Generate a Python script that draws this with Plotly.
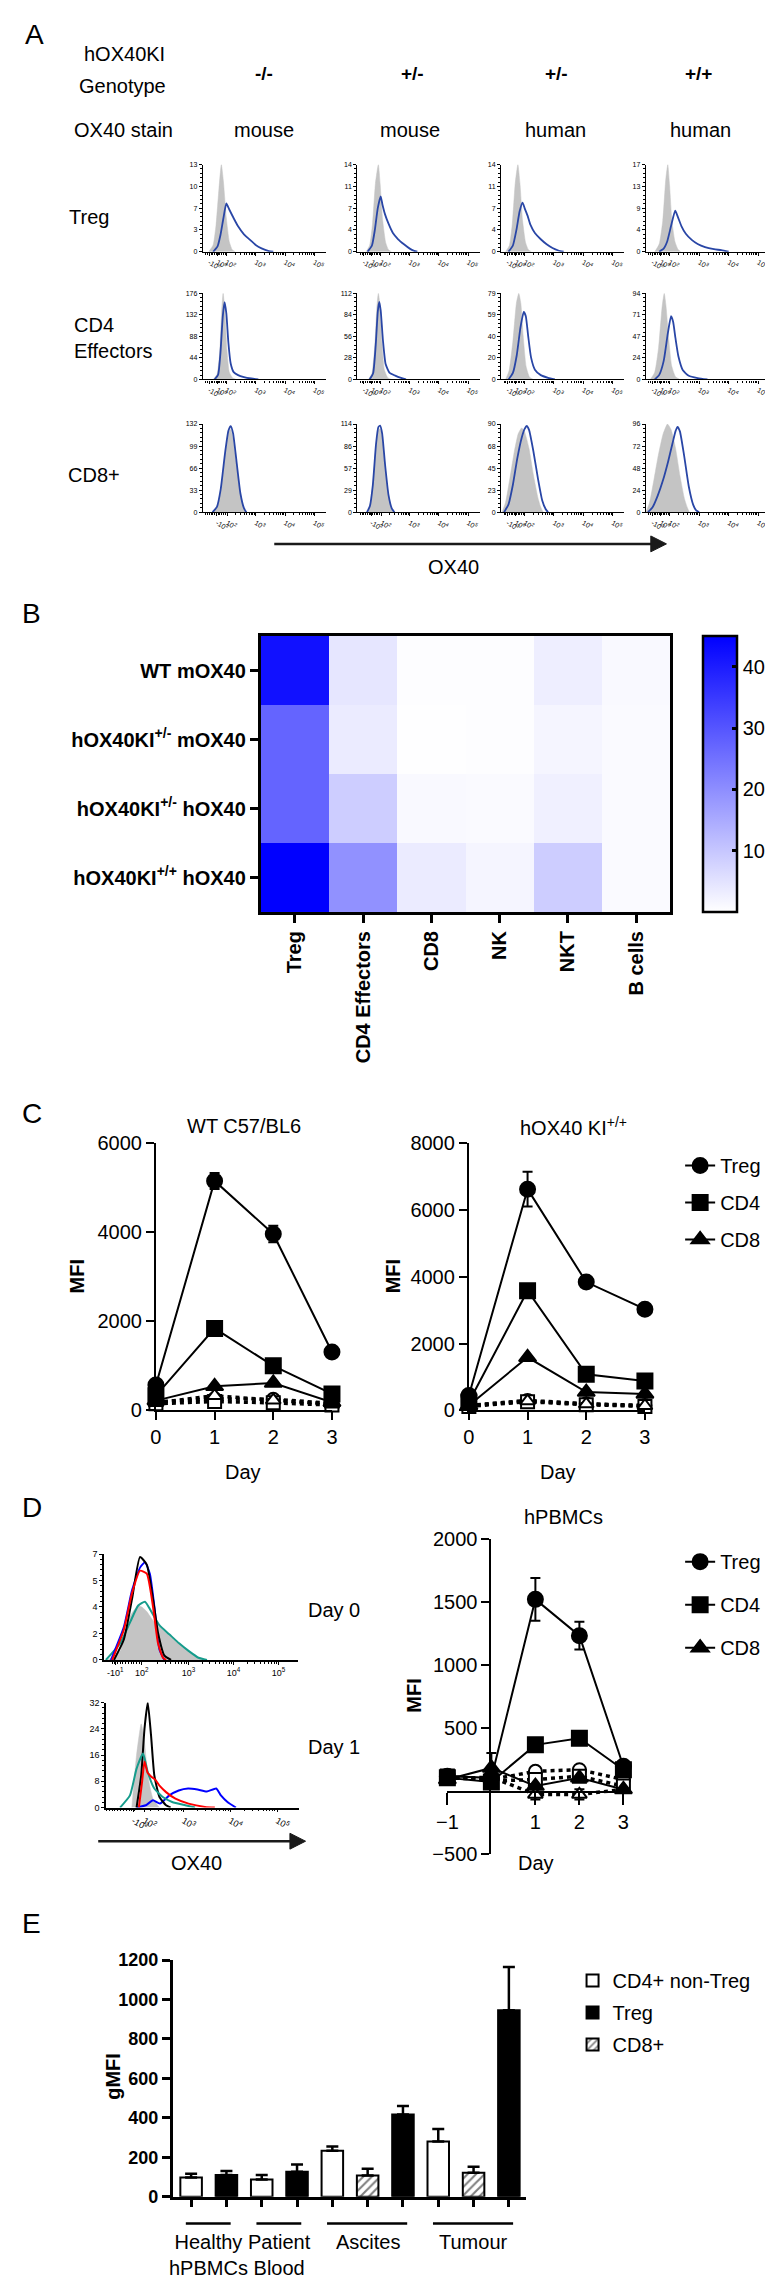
import math
import plotly.graph_objects as go

W, H = 773, 2276
FONT = "Arial, 'Liberation Sans', Helvetica, sans-serif"


def fx(p):
    return p / W


def fy(p):
    return 1 - p / H


# ======================= DATA =======================
# ---- Panel A : OX40 histograms (x in display decades, y in counts) ----
A_GENOTYPES = ["-/-", "+/-", "+/-", "+/+"]
A_STAINS = ["mouse", "mouse", "human", "human"]
A_ROW_LABELS = ["Treg", "CD4<br>Effectors", "CD8+"]
A_YMAX = [[13, 14, 14, 17], [176, 112, 79, 94], [132, 114, 90, 96]]

A_TREG_GRAY = [
    [(1.4, 0), (1.55, 1.0), (1.65, 4.0), (1.75, 9.5), (1.83, 13), (1.9, 10.5), (2.0, 5.0), (2.1, 1.5), (2.2, 0.3), (2.3, 0)],
    [(1.5, 0), (1.62, 1.0), (1.72, 4.5), (1.82, 11), (1.92, 14), (1.98, 11), (2.07, 5), (2.17, 1.5), (2.27, 0.3), (2.37, 0)],
    [(1.35, 0), (1.48, 1.0), (1.58, 4.5), (1.68, 11), (1.77, 14), (1.84, 11), (1.93, 5), (2.03, 1.5), (2.13, 0.3), (2.23, 0)],
    [(1.5, 0), (1.65, 1.5), (1.77, 6), (1.87, 14), (1.94, 17), (2.0, 13), (2.08, 6), (2.18, 2), (2.28, 0.5), (2.38, 0)],
]
A_TREG_BLUE = [
    [(1.55, 0), (1.7, 0.8), (1.8, 2.5), (1.9, 5.0), (2.0, 7.2), (2.1, 6.3), (2.25, 5.0), (2.4, 3.8), (2.6, 2.6), (2.8, 1.8), (3.0, 1.0), (3.2, 0.5), (3.45, 0.1), (3.6, 0)],
    [(1.55, 0), (1.7, 1.0), (1.8, 3.5), (1.9, 7.0), (2.0, 8.9), (2.06, 7.6), (2.15, 6.0), (2.27, 4.5), (2.42, 3.0), (2.6, 2.0), (2.8, 1.2), (3.0, 0.5), (3.15, 0.15), (3.26, 0)],
    [(1.45, 0), (1.6, 1.0), (1.72, 3.5), (1.83, 6.5), (1.93, 7.9), (2.0, 7.0), (2.1, 5.8), (2.2, 4.3), (2.35, 3.0), (2.55, 2.0), (2.75, 1.2), (2.95, 0.6), (3.15, 0.2), (3.33, 0)],
    [(1.65, 0), (1.8, 0.6), (1.92, 2.0), (2.05, 5.0), (2.19, 8.0), (2.28, 6.8), (2.4, 5.0), (2.55, 3.5), (2.75, 2.3), (2.95, 1.5), (3.2, 0.9), (3.5, 0.5), (3.75, 0.3), (4.0, 0)],
]
A_CD4_GRAY = [
    [(1.55, 0), (1.68, 10), (1.77, 50), (1.84, 140), (1.89, 176), (1.95, 140), (2.02, 60), (2.1, 15), (2.22, 3), (2.35, 0)],
    [(1.58, 0), (1.7, 8), (1.8, 45), (1.87, 95), (1.92, 112), (1.98, 95), (2.05, 45), (2.13, 12), (2.25, 2), (2.38, 0)],
    [(1.35, 0), (1.47, 8), (1.6, 35), (1.72, 70), (1.8, 79), (1.87, 70), (1.95, 40), (2.05, 12), (2.17, 2), (2.3, 0)],
    [(1.35, 0), (1.5, 8), (1.63, 35), (1.75, 80), (1.82, 94), (1.88, 80), (1.97, 45), (2.07, 15), (2.2, 3), (2.35, 0)],
]
A_CD4_BLUE = [
    [(1.6, 0), (1.72, 10), (1.8, 55), (1.88, 130), (1.94, 158), (2.0, 135), (2.07, 75), (2.15, 32), (2.25, 15), (2.4, 9), (2.6, 5), (2.85, 2), (3.09, 0)],
    [(1.62, 0), (1.74, 8), (1.83, 45), (1.9, 88), (1.95, 101), (2.0, 90), (2.08, 50), (2.17, 20), (2.3, 9), (2.5, 5), (2.7, 2), (2.87, 0)],
    [(1.45, 0), (1.6, 6), (1.73, 22), (1.86, 48), (1.97, 62), (2.04, 58), (2.12, 40), (2.22, 20), (2.35, 9), (2.55, 4), (2.8, 1.5), (3.03, 0)],
    [(1.5, 0), (1.65, 5), (1.8, 20), (1.94, 50), (2.05, 69), (2.12, 63), (2.2, 45), (2.3, 25), (2.45, 10), (2.65, 4), (2.95, 1.5), (3.28, 0)],
]
A_CD8_GRAY = [
    [(1.55, 0), (1.7, 8), (1.83, 35), (1.97, 90), (2.08, 120), (2.15, 124), (2.23, 110), (2.35, 70), (2.48, 25), (2.6, 5), (2.68, 0)],
    [(1.53, 0), (1.63, 8), (1.73, 35), (1.84, 85), (1.92, 106), (1.98, 108), (2.05, 98), (2.15, 60), (2.27, 20), (2.38, 4), (2.47, 0)],
    [(1.23, 0), (1.35, 10), (1.5, 35), (1.65, 62), (1.78, 80), (1.9, 86), (2.0, 82), (2.15, 65), (2.3, 38), (2.45, 15), (2.55, 5), (2.63, 0)],
    [(1.2, 0), (1.32, 10), (1.47, 35), (1.62, 62), (1.78, 85), (1.93, 96), (2.05, 90), (2.2, 70), (2.35, 40), (2.5, 15), (2.6, 5), (2.67, 0)],
]
A_CD8_BLUE = [
    [(1.53, 0), (1.68, 8), (1.81, 35), (1.96, 90), (2.07, 122), (2.15, 129), (2.23, 118), (2.35, 75), (2.48, 28), (2.6, 6), (2.68, 0)],
    [(1.53, 0), (1.63, 8), (1.73, 35), (1.84, 88), (1.92, 110), (1.98, 112), (2.05, 102), (2.15, 62), (2.27, 22), (2.38, 5), (2.47, 0)],
    [(1.3, 0), (1.45, 8), (1.6, 28), (1.75, 55), (1.9, 76), (2.0, 85), (2.07, 88), (2.15, 84), (2.3, 62), (2.45, 35), (2.6, 12), (2.72, 3), (2.8, 0)],
    [(1.27, 0), (1.42, 5), (1.6, 18), (1.78, 35), (1.95, 55), (2.1, 75), (2.2, 88), (2.27, 93), (2.35, 88), (2.5, 60), (2.65, 28), (2.8, 8), (2.9, 2), (3.0, 0)],
]
HIST_TICKS_1 = [1.42, 1.7, 2.0, 3, 4, 5]
HIST_TEXT_1 = ["-10<sup>2</sup>", "10<sup>0</sup>", "10<sup>2</sup>", "10<sup>3</sup>", "10<sup>4</sup>", "10<sup>5</sup>"]
HIST_TICKS_2 = [1.68, 2.03, 3, 4, 5]
HIST_TEXT_2 = ["-10<sup>2</sup>", "10<sup>2</sup>", "10<sup>3</sup>", "10<sup>4</sup>", "10<sup>5</sup>"]

# ---- Panel B : heatmap ----
B_ROWS = ["WT mOX40", "hOX40KI<sup>+/-</sup> mOX40", "hOX40KI<sup>+/-</sup> hOX40", "hOX40KI<sup>+/+</sup> hOX40"]
B_COLS = ["Treg", "CD4 Effectors", "CD8", "NK", "NKT", "B cells"]
B_VALUES = [
    [42.0, 4.4, 0.3, 0.3, 3.0, 1.0],
    [27.4, 3.5, 0.2, 0.3, 1.8, 0.9],
    [27.4, 8.8, 1.0, 0.8, 2.6, 0.9],
    [45.0, 19.4, 3.5, 1.8, 8.8, 0.9],
]
B_CBAR_TICKS = [10, 20, 30, 40]

# ---- Panel C : MFI vs day ----
C_DAYS = [0, 1, 2, 3]
C_WT_TREG = [570, 5150, 3960, 1310]
C_WT_TREG_ERR = [0, 180, 185, 0]
C_WT_CD4 = [330, 1840, 1000, 370]
C_WT_CD8 = [220, 540, 615, 185]
C_WT_ISO_TREG = [190, 260, 250, 160]
C_WT_ISO_CD4 = [150, 200, 170, 120]
C_WT_ISO_CD8 = [170, 330, 230, 140]
C_KI_TREG = [445, 6620, 3840, 3030]
C_KI_TREG_ERR = [0, 520, 0, 0]
C_KI_CD4 = [250, 3580, 1080, 880]
C_KI_CD8 = [150, 1590, 550, 495]
C_KI_ISO_TREG = [150, 300, 200, 150]
C_KI_ISO_CD4 = [120, 260, 170, 120]
C_KI_ISO_CD8 = [140, 280, 190, 140]

# ---- Panel D : hPBMC histograms and MFI ----
D0_GRAY = [(1.2, 0), (1.48, 0.6), (1.56, 1.5), (1.7, 2.9), (1.88, 3.6), (1.96, 3.5), (2.07, 3.2), (2.21, 2.6), (2.35, 2.2), (2.5, 1.8), (2.65, 1.4), (2.79, 1.1), (3.0, 0.6), (3.22, 0.15), (3.41, 0)]
D0_TEAL = [(1.16, 0), (1.48, 1.1), (1.7, 2.5), (1.88, 3.6), (2.03, 3.85), (2.17, 3.2), (2.35, 2.3), (2.57, 1.7), (2.79, 1.1), (3.0, 0.6), (3.22, 0.15), (3.41, 0)]
D0_BLUE = [(1.27, 0), (1.56, 2.2), (1.74, 4.6), (1.92, 6.1), (2.03, 6.45), (2.14, 5.7), (2.25, 3.3), (2.35, 0.7), (2.46, 0)]
D0_BLACK = [(1.34, 0), (1.56, 1.35), (1.74, 4.0), (1.92, 6.8), (2.07, 6.3), (2.21, 4.0), (2.32, 1.8), (2.46, 0.3), (2.61, 0)]
D0_RED = [(1.3, 0), (1.56, 2.0), (1.74, 4.4), (1.92, 5.9), (2.07, 5.7), (2.21, 3.5), (2.32, 1.1), (2.43, 0.15), (2.5, 0)]
D1_GRAY = [(1.9, 0), (2.0, 15.9), (2.1, 25.5), (2.17, 19.9), (2.24, 9.8), (2.35, 2.7), (2.49, 0)]
D1_BLACK = [(2.0, 0), (2.1, 9.8), (2.17, 24), (2.24, 32), (2.31, 22), (2.38, 9.8), (2.49, 3.2), (2.63, 0.7), (2.73, 0)]
D1_TEAL = [(1.65, 0), (1.86, 3.7), (2.0, 11.8), (2.14, 16.5), (2.24, 10.8), (2.38, 5.8), (2.56, 3.2), (2.76, 1.7), (3.04, 0.7), (3.25, 0)]
D1_RED = [(2.05, 0), (2.12, 8), (2.17, 14), (2.24, 10.5), (2.31, 9.5), (2.4, 8.5), (2.5, 6.5), (2.63, 4.7), (2.83, 2.7), (3.11, 1.2), (3.46, 0.2), (3.67, 0)]
D1_BLUE = [(2.0, 0), (2.2, 0.7), (2.35, 2.2), (2.5, 1.2), (2.7, 3.7), (2.9, 5.2), (3.1, 5.8), (3.3, 5.5), (3.5, 4.9), (3.7, 5.8), (3.8, 3.7), (3.94, 1.7), (4.12, 0)]

D_DAYS = [-1, 0, 1, 2, 3]
D_TREG = [118, 105, 1522, 1234, 197]
D_TREG_ERR = [0, 0, 170, 110, 0]
D_CD4 = [105, 73, 367, 420, 170]
D_CD8 = [92, 184, 40, 105, 13]
D_CD8_ERR = [0, 118, 0, 0, 0]
D_ISO_TREG = [105, 92, 157, 170, 92]
D_ISO_CD4 = [120, 80, 92, 118, 40]
D_ISO_CD8 = [100, 110, -26, -26, 13]
D_ISO_CD8_ERR = [0, 0, 40, 40, 0]

# ---- Panel E : gMFI bars ----
E_POS = [1, 2, 3, 4, 5, 6, 7, 8, 9, 10]
E_TYPE = ["CD4+ non-Treg", "Treg", "CD4+ non-Treg", "Treg", "CD4+ non-Treg", "CD8+", "Treg", "CD4+ non-Treg", "CD8+", "Treg"]
E_GMFI = [97, 110, 88, 127, 233, 108, 417, 280, 122, 945]
E_ERR = [20, 20, 22, 36, 22, 34, 43, 63, 30, 220]
E_GROUPS = ["Healthy<br>hPBMCs", "Patient<br>Blood", "Ascites", "Tumour"]
E_GROUP_SPANS = [(1, 2), (3, 4), (5, 7), (8, 10)]

# ======================= FIGURE =======================
traces = []
annotations = []
shapes = []
layout = dict(
    width=W, height=H, margin=dict(l=0, r=0, t=0, b=0),
    paper_bgcolor="white", plot_bgcolor="white",
    font=dict(family=FONT, color="black"), hovermode=False,
)


def names(n):
    if n == 1:
        return "xaxis", "yaxis", "x", "y"
    return f"xaxis{n}", f"yaxis{n}", f"x{n}", f"y{n}"


def base_axis(**kw):
    d = dict(showgrid=False, zeroline=False, showline=True, linecolor="black",
             ticks="outside", tickcolor="black", fixedrange=True)
    d.update(kw)
    return d


def text(t, x, y, size=20, bold=False, xanchor="center", yanchor="middle", angle=0, align="center"):
    annotations.append(dict(
        text=f"<b>{t}</b>" if bold else t, x=fx(x), y=fy(y), xref="paper", yref="paper",
        showarrow=False, font=dict(size=size, family=FONT, color="black"),
        xanchor=xanchor, yanchor=yanchor, textangle=angle, align=align))


def arrow(x0, x1, y):
    shapes.append(dict(type="line", xref="paper", yref="paper", x0=fx(x0), x1=fx(x1 - 10),
                       y0=fy(y), y1=fy(y), line=dict(color="#1a1a1a", width=2.5)))
    shapes.append(dict(type="path", xref="paper", yref="paper",
                       path=f"M {fx(x1 - 16)} {fy(y - 8)} L {fx(x1)} {fy(y)} L {fx(x1 - 16)} {fy(y + 8)} Z",
                       fillcolor="#1a1a1a", line=dict(color="#1a1a1a", width=1)))


MINOR_LOG = [round(d + math.log10(k), 3) for d in (2, 3, 4) for k in range(2, 10)]
MINOR_LIN = [round(1.3 + 0.06 * i, 3) for i in range(12)]


def hist_axes(n, xpx, ypx, urange, tvals, ttext, yvals, ytext, ymax, fsize=7, lw=1.3):
    xk, yk, xr, yr = names(n)
    layout[xk] = base_axis(domain=[fx(xpx[0]), fx(xpx[1])], anchor=yr, range=urange,
                           tickvals=tvals, ticktext=ttext, tickfont=dict(size=fsize),
                           ticklen=3, tickwidth=1, linewidth=lw,
                           minor=dict(tickmode="array", tickvals=MINOR_LOG + MINOR_LIN,
                                      ticks="outside", ticklen=2, tickwidth=1, tickcolor="black"))
    layout[yk] = base_axis(domain=[fy(ypx[1]), fy(ypx[0])], anchor=xr, range=[0, ymax],
                           tickvals=yvals, ticktext=ytext, tickfont=dict(size=fsize),
                           ticklen=3, tickwidth=1, linewidth=lw,
                           minor=dict(tickmode="linear", tick0=0, dtick=ymax / 20,
                                      ticks="outside", ticklen=2, tickwidth=0.8, tickcolor="black"))
    return xr, yr


def curve(pts, xr, yr, color, width=1.8, fill=None):
    t = go.Scatter(x=[p[0] for p in pts], y=[p[1] for p in pts], mode="lines",
                   line=dict(color=color, width=width, shape="spline", smoothing=0.5),
                   xaxis=xr, yaxis=yr, showlegend=False, hoverinfo="skip")
    if fill:
        t.update(fill="tozeroy", fillcolor=fill)
    traces.append(t)


# ---------------- Panel A ----------------
text("A", 16, 16, size=28)
text("hOX40KI", 108, 35)
text("Genotype", 106, 68)
text("OX40 stain", 107, 112)
for x, g in zip([251, 402, 550, 695], A_GENOTYPES):
    text(g, x, 55, size=19, bold=True)
for x, s in zip([251, 400, 549, 697], A_STAINS):
    text(s, x, 112)
text(A_ROW_LABELS[0], 49, 200, xanchor="left")
text(A_ROW_LABELS[1], 54, 322, xanchor="left", align="left")
text(A_ROW_LABELS[2], 48, 460, xanchor="left")

A_COL_PX = [(188, 314), (346, 471), (493, 619), (641, 768)]
A_ROW_PX = [(147, 235), (277, 364), (409, 498)]
A_GRAY = [A_TREG_GRAY, A_CD4_GRAY, A_CD8_GRAY]
A_BLUE = [A_TREG_BLUE, A_CD4_BLUE, A_CD8_BLUE]
n = 0
for r in range(3):
    for c in range(4):
        n += 1
        ymax = A_YMAX[r][c]
        yv = [ymax * i / 4 for i in range(5)]
        yt = [str(int(v + 0.5)) for v in yv]
        if r == 2 and c < 2:
            tv, tt = HIST_TICKS_2, HIST_TEXT_2
        else:
            tv, tt = HIST_TICKS_1, HIST_TEXT_1
        xr, yr = hist_axes(n, A_COL_PX[c], A_ROW_PX[r], [1.2, 5.4], tv, tt, yv, yt, ymax)
        curve(A_GRAY[r][c], xr, yr, "#c4c4c4", width=0.5, fill="#c4c4c4")
        curve(A_BLUE[r][c], xr, yr, "#2946a6", width=1.8)

arrow(261, 662, 530)
text("OX40", 444, 553)

# ---------------- Panel B ----------------
text("B", 13, 600, size=28)
n = 13
xk, yk, xr, yr = names(n)
traces.append(go.Heatmap(
    z=B_VALUES, x=B_COLS, y=B_ROWS, xaxis=xr, yaxis=yr,
    colorscale=[[0, "#ffffff"], [1, "#0000ff"]], zmin=0, zmax=45,
    hoverinfo="skip",
    colorbar=dict(x=fx(699), xanchor="left", y=fy(762.5), yanchor="middle",
                  len=279 / H, lenmode="fraction", thickness=34, thicknessmode="pixels",
                  outlinewidth=2.5, outlinecolor="black", tickvals=B_CBAR_TICKS,
                  ticks="inside", ticklen=6, tickwidth=2.5, tickcolor="black",
                  tickfont=dict(size=20, family=FONT), xpad=0, ypad=0)))
layout[xk] = base_axis(domain=[fx(247), fx(666)], anchor=yr, mirror=True, linewidth=2.5,
                       tickangle=-90, ticklen=8, tickwidth=2.5,
                       tickfont=dict(size=20, weight="bold"))
layout[yk] = base_axis(domain=[fy(902), fy(623)], anchor=xr, mirror=True, linewidth=2.5,
                       autorange="reversed", ticklen=8, tickwidth=2.5,
                       tickfont=dict(size=20, weight="bold"))


# ---------------- Panel C ----------------
def series(xr, yr, xs, ys, symbol, dashed=False, err=None, name=None, legend=None, size=15):
    t = go.Scatter(
        x=xs, y=ys, mode="lines+markers", xaxis=xr, yaxis=yr, cliponaxis=False,
        marker=dict(symbol=symbol, size=size, color="white" if dashed else "black",
                    line=dict(color="black", width=2)),
        line=dict(color="black", width=3.5 if dashed else 2, dash="4px,4px" if dashed else "solid"),
        showlegend=name is not None, name=name or "", hoverinfo="skip")
    if legend:
        t.update(legend=legend, legendgroup=f"{legend}-{name}")
    if err:
        t.update(error_y=dict(type="data", array=err, symmetric=True, color="black",
                              thickness=2, width=5))
    traces.append(t)


text("C", 13, 1105, size=28)
text("WT C57/BL6", 230, 1118)
text("hOX40 KI<sup>+/+</sup>", 567, 1118)

C_PANELS = [
    (14, (140, 320), 6000, C_WT_TREG, C_WT_TREG_ERR, C_WT_CD4, C_WT_CD8,
     C_WT_ISO_TREG, C_WT_ISO_CD4, C_WT_ISO_CD8, True),
    (15, (460, 640), 8000, C_KI_TREG, C_KI_TREG_ERR, C_KI_CD4, C_KI_CD8,
     C_KI_ISO_TREG, C_KI_ISO_CD4, C_KI_ISO_CD8, False),
]
for (n, xpx, ymax, treg, treg_err, cd4, cd8, it, i4, i8, leg) in C_PANELS:
    xk, yk, xr, yr = names(n)
    layout[xk] = base_axis(domain=[fx(xpx[0]), fx(xpx[1])], anchor=yr, range=[0, 3],
                           tickvals=C_DAYS, ticklen=8, tickwidth=2, linewidth=2,
                           tickfont=dict(size=20))
    layout[yk] = base_axis(domain=[fy(1405), fy(1135)], anchor=xr, range=[0, ymax],
                           dtick=2000, ticklen=8, tickwidth=2, linewidth=2,
                           tickfont=dict(size=20))
    series(xr, yr, C_DAYS, it, "circle", dashed=True, size=13)
    series(xr, yr, C_DAYS, i4, "square", dashed=True, size=13)
    series(xr, yr, C_DAYS, i8, "triangle-up", dashed=True, size=13)
    series(xr, yr, C_DAYS, treg, "circle", err=treg_err,
           name="Treg" if leg else None, legend="legend" if leg else None)
    series(xr, yr, C_DAYS, cd4, "square",
           name="CD4" if leg else None, legend="legend" if leg else None)
    series(xr, yr, C_DAYS, cd8, "triangle-up",
           name="CD8" if leg else None, legend="legend" if leg else None)

text("MFI", 59, 1270, bold=True, angle=-90)
text("MFI", 382, 1270, bold=True, angle=-90)
text("Day", 229, 1467)
text("Day", 551, 1467)

# ---------------- Panel D ----------------
text("D", 13, 1503, size=28)
xr, yr = hist_axes(16, (87, 285), (1550, 1657), [1.12, 5.43], [1.37, 1.96, 3, 4, 5],
                   ["-10<sup>1</sup>", "10<sup>2</sup>", "10<sup>3</sup>", "10<sup>4</sup>", "10<sup>5</sup>"],
                   [0, 1.75, 3.5, 5.25, 7], ["0", "2", "4", "5", "7"], 7, fsize=9, lw=1.5)
curve(D0_GRAY, xr, yr, "#c4c4c4", width=0.5, fill="#c4c4c4")
curve(D0_TEAL, xr, yr, "#169c8c", width=2)
curve(D0_BLUE, xr, yr, "#0000ff", width=1.8)
curve(D0_BLACK, xr, yr, "#000000", width=2)
curve(D0_RED, xr, yr, "#ff0000", width=2)
xr, yr = hist_axes(17, (89, 286), (1700, 1806), [1.35, 5.46], [1.93, 2.17, 3, 4, 5],
                   ["-10<sup>2</sup>", "10<sup>2</sup>", "10<sup>3</sup>", "10<sup>4</sup>", "10<sup>5</sup>"],
                   [0, 8, 16, 24, 32], ["0", "8", "16", "24", "32"], 32, fsize=9, lw=1.5)
curve(D1_GRAY, xr, yr, "#c4c4c4", width=0.5, fill="#c4c4c4")
curve(D1_BLUE, xr, yr, "#0000ff", width=2)
curve(D1_BLACK, xr, yr, "#000000", width=2)
curve(D1_TEAL, xr, yr, "#169c8c", width=2)
curve(D1_RED, xr, yr, "#ff0000", width=2)
text("Day 0", 322, 1607)
text("Day 1", 322, 1745)
arrow(81, 293, 1840)
text("OX40", 182, 1862)

n = 18
xk, yk, xr, yr = names(n)
layout[xk] = base_axis(domain=[fx(438), fx(618)], anchor="free", position=fy(1790),
                       range=[-1, 3], tickvals=[-1, 1, 2, 3], ticklen=12, tickwidth=2,
                       linewidth=2, tickfont=dict(size=20))
layout[yk] = base_axis(domain=[fy(1853), fy(1535)], anchor="free", position=fx(482),
                       range=[-500, 2000], tickvals=[-500, 500, 1000, 1500, 2000],
                       ticklen=8, tickwidth=2, linewidth=2, tickfont=dict(size=20))
series(xr, yr, D_DAYS, D_ISO_TREG, "circle", dashed=True, size=13)
series(xr, yr, D_DAYS, D_ISO_CD4, "square", dashed=True, size=13)
series(xr, yr, D_DAYS, D_ISO_CD8, "triangle-up", dashed=True, err=D_ISO_CD8_ERR, size=13)
series(xr, yr, D_DAYS, D_TREG, "circle", err=D_TREG_ERR, name="Treg", legend="legend2")
series(xr, yr, D_DAYS, D_CD4, "square", name="CD4", legend="legend2")
series(xr, yr, D_DAYS, D_CD8, "triangle-up", err=D_CD8_ERR, name="CD8", legend="legend2")
text("hPBMCs", 557, 1513)
text("MFI", 404, 1693, bold=True, angle=-90)
text("Day", 529, 1862)

# ---------------- Panel E ----------------
text("E", 13, 1923, size=28)
n = 19
xk, yk, xr, yr = names(n)
layout[xk] = base_axis(domain=[fx(157), fx(518)], anchor=yr, range=[0.474, 10.474],
                       tickvals=E_POS, showticklabels=False, ticklen=8, tickwidth=2.5,
                       linewidth=2.5)
layout[yk] = base_axis(domain=[fy(2199), fy(1960)], anchor=xr, range=[0, 1200], dtick=200,
                       ticklen=8, tickwidth=2.5, linewidth=2.5,
                       tickfont=dict(size=18, weight="bold"))
E_STYLES = {
    "CD4+ non-Treg": dict(color="white"),
    "Treg": dict(color="black"),
    "CD8+": dict(color="white", pattern=dict(shape="/", fgcolor="black", bgcolor="white", size=6, solidity=0.35)),
}
for typ in ["CD4+ non-Treg", "Treg", "CD8+"]:
    idx = [i for i, t in enumerate(E_TYPE) if t == typ]
    mk = dict(E_STYLES[typ])
    mk["line"] = dict(color="black", width=2)
    traces.append(go.Bar(
        x=[E_POS[i] for i in idx], y=[E_GMFI[i] for i in idx], width=0.61,
        marker=mk, name=typ, xaxis=xr, yaxis=yr, legend="legend3", legendgroup=f"e-{typ}",
        error_y=dict(type="data", array=[E_ERR[i] for i in idx], arrayminus=[0] * len(idx),
                     symmetric=False, color="black", thickness=2.5, width=6),
        hoverinfo="skip"))
for (s, e), label in zip(E_GROUP_SPANS, E_GROUPS):
    shapes.append(dict(type="line", xref=xr, yref="paper", x0=s - 0.15, x1=e + 0.12,
                       y0=fy(2226), y1=fy(2226), line=dict(color="black", width=2.5)))
    annotations.append(dict(text=label, x=(s + e) / 2, y=fy(2232), xref=xr, yref="paper",
                            showarrow=False, yanchor="top", xanchor="center",
                            font=dict(size=20, family=FONT, color="black")))
text("gMFI", 96, 2077, bold=True, angle=-90)

# ---------------- legends ----------------
leg_common = dict(xanchor="left", yanchor="top", traceorder="grouped", bgcolor="rgba(0,0,0,0)",
                  font=dict(size=20, family=FONT, color="black"), itemwidth=30)
layout["legend"] = dict(x=fx(676), y=fy(1138), tracegroupgap=8, **leg_common)
layout["legend2"] = dict(x=fx(676), y=fy(1538), tracegroupgap=14, **leg_common)
layout["legend3"] = dict(x=fx(566), y=fy(1961), tracegroupgap=3, **leg_common)

layout["annotations"] = annotations
layout["shapes"] = shapes
fig = go.Figure(data=traces)
fig.update_layout(**layout)
fig.write_html("out.html")
